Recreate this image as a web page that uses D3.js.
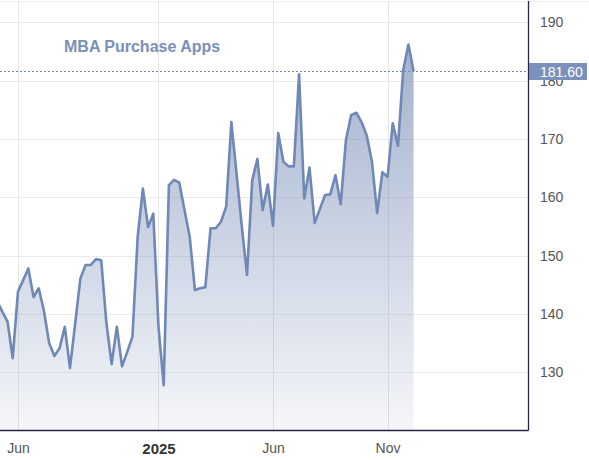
<!DOCTYPE html>
<html>
<head>
<meta charset="utf-8">
<script src="https://cdn.jsdelivr.net/npm/d3@7"></script>
<style>
  html, body { margin: 0; padding: 0; background: #ffffff; }
  svg { display: block; font-family: "Liberation Sans", Arial, sans-serif; }
</style>
</head>
<body>
<svg id="chart" width="589" height="460"></svg>
<script>
// ---- Data (weekly MBA Purchase Applications index) ----
const title = "MBA Purchase Apps";
const lastDate = "2025-12-12";
const values = [
  142.2, 140.4, 138.7, 132.4, 143.8, 145.8, 147.8, 142.9, 144.4, 140.5,
  135.0, 132.8, 134.1, 137.8, 130.7, 138.4, 146.1, 148.4, 148.4, 149.4,
  149.2, 138.4, 131.4, 137.8, 131.0, 133.5, 136.1, 153.2, 161.5, 154.9,
  157.2, 137.8, 127.8, 162.1, 163.0, 162.5, 157.8, 153.2, 144.1, 144.4,
  144.6, 154.7, 154.7, 155.8, 158.4, 172.9, 164.0, 155.0, 146.7, 162.9,
  166.6, 157.8, 162.2, 155.1, 171.0, 166.1, 165.3, 165.3, 181.1, 159.8,
  165.1, 155.6, 158.0, 160.4, 160.5, 163.8, 158.8, 169.8, 174.1, 174.5,
  172.9, 170.6, 166.1, 157.3, 164.3, 163.5, 172.7, 168.8, 181.8, 186.2,
  181.6
];
const lastValueLabel = "181.60";
const yTicks = [130, 140, 150, 160, 170, 180, 190];
const xTickDates = ["2024-06-28", "2025-01-03", "2025-06-06", "2025-11-07"];
const xTickLabels = ["Jun", "2025", "Jun", "Nov"];
const xTickBold = [false, true, false, false];

// ---- Layout ----
const W = 589, H = 460;
const plotRight = 528, plotBottom = 430;
const lineColor = "#7088b6";

const parse = d3.timeParse("%Y-%m-%d");
const end = parse(lastDate);
const n = values.length;
const data = values.map((v, i) => ({ date: d3.timeWeek.offset(end, i - (n - 1)), value: v }));

const x = d3.scaleTime()
  .domain([data[0].date, data[n - 1].date])
  .range([-2.9, 413.6]);
const y = d3.scaleLinear().domain([120.1, 193.83]).range([plotBottom, 0]);

const svg = d3.select("#chart");

const defs = svg.append("defs");
defs.append("clipPath").attr("id", "plotClip")
  .append("rect").attr("x", 0).attr("y", 0).attr("width", plotRight).attr("height", plotBottom);
const grad = defs.append("linearGradient").attr("id", "areaGrad")
  .attr("gradientUnits", "userSpaceOnUse")
  .attr("x1", 0).attr("y1", y(d3.max(values))).attr("x2", 0).attr("y2", plotBottom);
grad.append("stop").attr("offset", "0%").attr("stop-color", "#6a82b0").attr("stop-opacity", 0.62);
grad.append("stop").attr("offset", "100%").attr("stop-color", "#6a82b0").attr("stop-opacity", 0.07);

// top faint border
svg.append("line").attr("x1", 0).attr("x2", W).attr("y1", 1.5).attr("y2", 1.5)
  .attr("stroke", "#efefef").attr("stroke-width", 1);

// gridlines
const grid = svg.append("g");
grid.selectAll("line.h").data(yTicks).join("line")
  .attr("x1", 0).attr("x2", plotRight)
  .attr("y1", d => Math.round(y(d)) + 0.5).attr("y2", d => Math.round(y(d)) + 0.5)
  .attr("stroke", "#ebebeb").attr("stroke-width", 1);
grid.selectAll("line.v").data(xTickDates).join("line")
  .attr("x1", d => Math.round(x(parse(d))) + 0.5).attr("x2", d => Math.round(x(parse(d))) + 0.5)
  .attr("y1", 1).attr("y2", plotBottom)
  .attr("stroke", "#e6e6e6").attr("stroke-width", 1);

// area + line
const plot = svg.append("g").attr("clip-path", "url(#plotClip)");
plot.append("path").datum(data)
  .attr("fill", "url(#areaGrad)")
  .attr("d", d3.area().x(d => x(d.date)).y0(plotBottom).y1(d => y(d.value)));
plot.append("path").datum(data)
  .attr("fill", "none").attr("stroke", lineColor).attr("stroke-width", 2.6)
  .attr("stroke-linejoin", "round")
  .attr("d", d3.line().x(d => x(d.date)).y(d => y(d.value)));

// title
svg.append("text").attr("x", 64).attr("y", 52)
  .attr("font-size", 16).attr("font-weight", "bold").attr("fill", "#7990b9")
  .text(title);

// y axis (right)
const yAxis = d3.axisRight(y).tickValues(yTicks).tickSize(0).tickPadding(12).tickFormat(d3.format("d"));
const gy = svg.append("g").attr("transform", `translate(${plotRight},0)`).call(yAxis);
gy.select(".domain").remove();
gy.selectAll("text").attr("font-size", 14).attr("fill", "#555555")
  .attr("font-family", "'Liberation Sans', Arial, sans-serif");

// x axis
const xAxis = d3.axisBottom(x).tickValues(xTickDates.map(parse)).tickSize(0).tickPadding(13)
  .tickFormat((d, i) => xTickLabels[i]);
const gx = svg.append("g").attr("transform", `translate(0,${plotBottom})`).call(xAxis);
gx.select(".domain").remove();
gx.selectAll("text")
  .attr("font-size", (d, i) => xTickBold[i] ? 15 : 14)
  .attr("font-family", "'Liberation Sans', Arial, sans-serif")
  .attr("font-weight", (d, i) => xTickBold[i] ? "bold" : "normal")
  .attr("fill", (d, i) => xTickBold[i] ? "#333333" : "#555555");

// axis lines
svg.append("line").attr("x1", 0).attr("x2", plotRight + 0.5).attr("y1", plotBottom + 0.5).attr("y2", plotBottom + 0.5)
  .attr("stroke", "#28264a").attr("stroke-width", 1.3);
svg.append("line").attr("x1", plotRight + 0.5).attr("x2", plotRight + 0.5).attr("y1", 1).attr("y2", plotBottom + 0.5)
  .attr("stroke", "#28264a").attr("stroke-width", 1.3);

// last value marker
const lastY = Math.round(y(values[n - 1]));
svg.append("line").attr("x1", 0).attr("x2", plotRight).attr("y1", lastY + 0.5).attr("y2", lastY + 0.5)
  .attr("stroke", "#6f86b2").attr("stroke-width", 1).attr("stroke-dasharray", "2,2");
svg.append("rect").attr("x", plotRight + 1).attr("y", lastY - 8).attr("width", 58).attr("height", 17)
  .attr("fill", "#7b91bc");
svg.append("text").attr("x", 540).attr("y", lastY + 5.5)
  .attr("font-size", 14).attr("fill", "#ffffff").text(lastValueLabel);
</script>
</body>
</html>
